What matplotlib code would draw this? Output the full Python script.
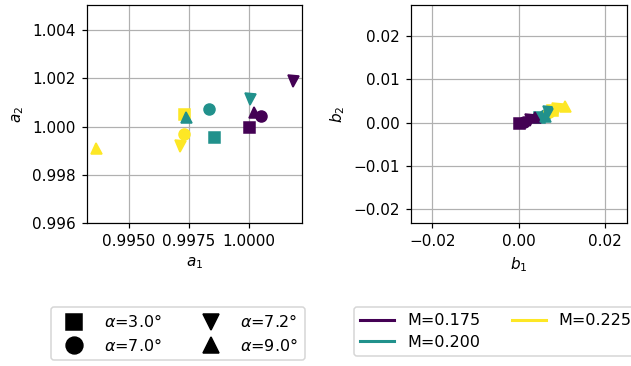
import matplotlib
matplotlib.use("Agg")
import matplotlib.pyplot as plt
from matplotlib.lines import Line2D
import numpy as np

mach = [0.175, 0.200, 0.225]
alphas = [3.0, 7.0, 7.2, 9.0]
markers = ['s', 'o', 'v', '^']
colors = [plt.cm.viridis(0.0), plt.cm.viridis(0.5), plt.cm.viridis(1.0)]

# rows: alpha, columns: Mach
a1 = [[1.00000, 0.99855, 0.99731],
      [1.00052, 0.99835, 0.99730],
      [1.00184, 1.00004, 0.99715],
      [1.00022, 0.99739, 0.99364]]
a2 = [[0.99999, 0.99957, 1.00053],
      [1.00044, 1.00073, 0.99970],
      [1.00188, 1.00116, 0.99921],
      [1.00060, 1.00041, 0.99913]]
b1 = [[0.0000, 0.0048, 0.0078],
      [0.0012, 0.0060, 0.0070],
      [0.0025, 0.0068, 0.0088],
      [0.0038, 0.0062, 0.0108]]
b2 = [[0.0000, 0.0012, 0.0028],
      [0.0002, 0.0018, 0.0024],
      [0.0006, 0.0024, 0.0032],
      [0.0012, 0.0016, 0.0038]]

DPI = 110
fig = plt.figure(figsize=(631 / DPI, 366 / DPI), dpi=DPI)
ax1 = fig.add_axes([0.1374, 0.3899, 0.3412, 0.5964])
ax2 = fig.add_axes([0.6509, 0.3899, 0.3423, 0.5964])

for i, mk in enumerate(markers):
    for j, c in enumerate(colors):
        ax1.plot(a1[i][j], a2[i][j], marker=mk, color=c, ms=7.2, ls='none')
        ax2.plot(b1[i][j], b2[i][j], marker=mk, color=c, ms=7.2, ls='none')

ax1.set_xlim(0.99325, 1.00221)
ax1.set_ylim(0.996, 1.00504)
ax1.set_xticks([0.995, 0.9975, 1.0])
ax1.set_yticks([0.996, 0.998, 1.000, 1.002, 1.004])
ax1.set_xlabel(r'$a_1$')
ax1.set_ylabel(r'$a_2$')
ax1.grid(True)

ax2.set_xlim(-0.025, 0.025)
ax2.set_ylim(-0.0233, 0.0272)
ax2.set_xticks([-0.02, 0.0, 0.02])
ax2.set_yticks([-0.02, -0.01, 0.0, 0.01, 0.02])
ax2.set_xlabel(r'$b_1$')
ax2.set_ylabel(r'$b_2$')
ax2.grid(True)

mh = [Line2D([], [], marker=mk, color='k', ls='none', ms=11) for mk in markers]
ml = [r'$\alpha$=%.1f°' % a for a in alphas]
fig.legend(mh, ml, ncol=2, loc='upper left', bbox_to_anchor=(51/631, 1 - 307/366),
           borderaxespad=0, fontsize=10.5, handlelength=2.1, labelspacing=0.4)

lh = [Line2D([], [], color=c, lw=2) for c in colors]
ll = ['M=%.3f' % m for m in mach]
fig.legend(lh, ll, ncol=2, loc='upper left', bbox_to_anchor=(354/631, 1 - 307/366),
           borderaxespad=0, fontsize=10.5, handlelength=2.1, labelspacing=0.4)

fig.savefig('out.png', dpi=DPI)
